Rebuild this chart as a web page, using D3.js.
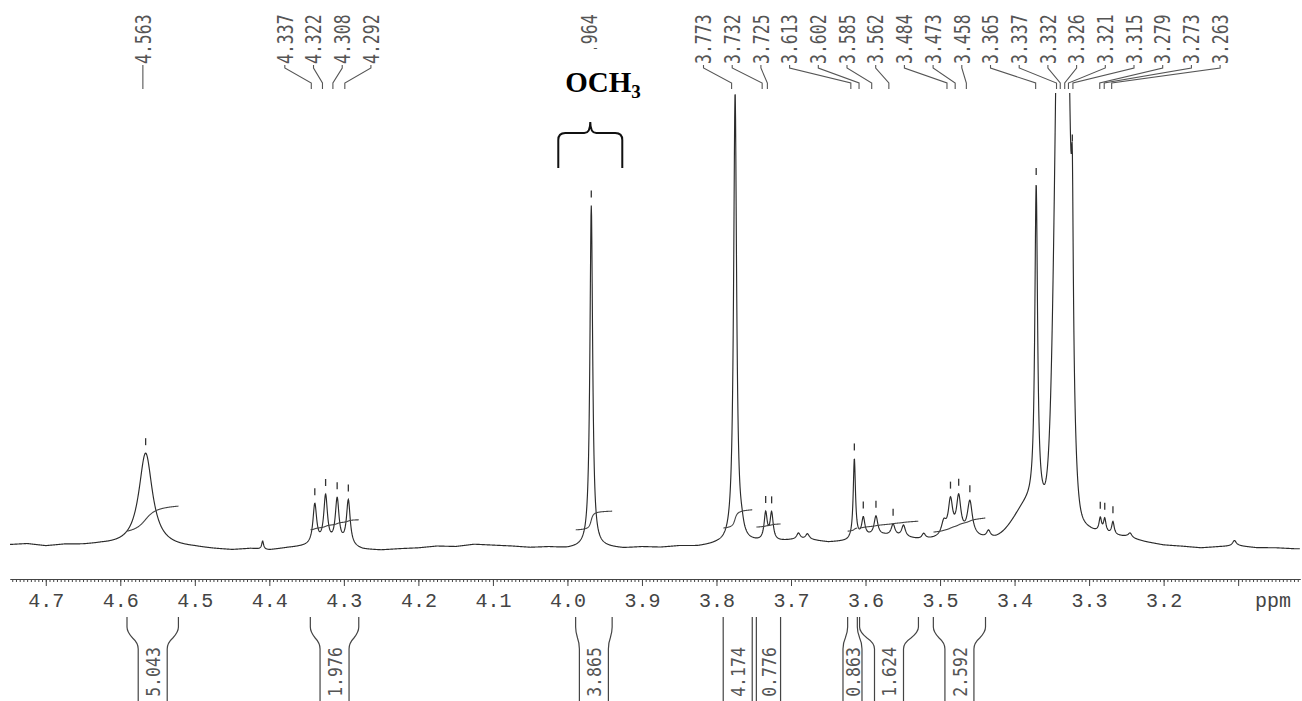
<!DOCTYPE html>
<html><head><meta charset="utf-8">
<script src="https://cdn.jsdelivr.net/npm/d3@7"></script>
<style>body{margin:0;background:#fff;} svg{display:block;background:#fff}</style>
</head><body><svg id="c" width="1302" height="701"></svg>
<script>
// ---------------- data ----------------
// resolved peaks (ppm, height in relative units, half width, shape L=Lorentz G=Gauss)
const peakPpm    = [4.566, 4.409, 4.339, 4.3245, 4.309, 4.294, 3.968, 3.775, 3.766, 3.734, 3.726, 3.690, 3.678, 3.615, 3.603, 3.586, 3.563, 3.549, 3.522, 3.495, 3.486, 3.475, 3.460, 3.435, 3.382, 3.371, 3.3356, 3.3356, 3.3225, 3.285, 3.279, 3.268, 3.245, 3.105];
const peakHeight = [20.5, 1.8, 8.8, 10.4, 9.8, 9.9, 75, 99, 1.5, 6.0, 6.0, 1.4, 1.2, 17.5, 4.0, 4.2, 2.5, 2.5, 1.2, 3.0, 7.5, 8.0, 7.5, 1.5, 7, 70, 177, 13, 34, 3, 3, 2.8, 1.0, 1.2];
const peakWidth  = [0.011, 0.0015, 0.003, 0.003, 0.003, 0.003, 0.0022, 0.0024, 0.003, 0.0025, 0.0025, 0.003, 0.003, 0.0018, 0.0025, 0.003, 0.003, 0.003, 0.003, 0.004, 0.0035, 0.0035, 0.004, 0.003, 0.02, 0.0022, 0.0078, 0.02, 0.0015, 0.002, 0.002, 0.002, 0.003, 0.003];
const peakShape  = ["L","L","L","L","L","L","L","L","L","L","L","L","L","L","L","L","L","L","L","L","L","L","L","L","G","L","G","L","L","L","L","L","L","L"];
// baseline level
const baselinePpm   = [4.75,4.725,4.70,4.675,4.65,4.625,4.60,4.575,4.55,4.525,4.50,4.475,4.45,4.425,4.40,4.375,4.35,4.325,4.30,4.275,4.25,4.225,4.20,4.175,4.15,4.125,4.10,4.075,4.05,4.025,4.00,3.975,3.95,3.925,3.90,3.875,3.85,3.825,3.80,3.775,3.75,3.725,3.70,3.675,3.65,3.625,3.60,3.575,3.55,3.525,3.50,3.475,3.45,3.425,3.40,3.375,3.35,3.325,3.30,3.275,3.25,3.225,3.20,3.175,3.15,3.125,3.10,3.075,3.05,3.025,3.00];
const baselineLevel = [0.9,1.1,0.6,0.9,0.8,0.9,0.7,0.5,0.5,0.3,0.2,-0.1,-0.3,0.0,-0.3,0.2,0.5,0.8,0.6,-0.2,-0.3,0.0,0.2,0.6,0.5,1.0,0.8,0.6,0.3,0.4,0.1,0.3,0.3,0.1,0.4,0.3,0.6,0.5,0.9,1.0,1.3,1.4,1.8,1.9,1.4,1.6,2.6,2.8,2.4,1.8,2.0,2.5,2.0,1.3,1.0,1.0,1.0,1.0,1.6,2.0,2.0,1.2,0.6,0.4,0.1,0.4,0.6,0.2,0.2,0.0,0.0];
// peak-picking labels
const shiftLabels = ["4.563","4.337","4.322","4.308","4.292","3.964","3.773","3.732","3.725","3.613","3.602","3.585","3.562","3.484","3.473","3.458","3.365","3.337","3.332","3.326","3.321","3.315","3.279","3.273","3.263"];
const markerPpm = [4.566, 4.339, 4.3245, 4.309, 4.294, 3.968, 3.734, 3.726, 3.615, 3.603, 3.586, 3.563, 3.486, 3.475, 3.460, 3.371, 3.3225, 3.285, 3.279, 3.268];
// integrals
const integralValues = ["5.043","1.976","3.865","4.174","0.776","0.863","1.624","2.592"];
const integralFrom   = [4.591, 4.345, 3.989, 3.791, 3.7465, 3.624, 3.608, 3.509];
const integralTo     = [4.522, 4.280, 3.940, 3.752, 3.714, 3.611, 3.529, 3.439];
const integralStart  = [3.9, 4.2, 4.2, 4.6, 4.8, 3.9, 4.6, 3.7];
const integralEnd    = [9.4, 6.4, 8.3, 8.6, 5.5, 4.6, 6.1, 6.8];
// axis
const tickValues = [4.7,4.6,4.5,4.4,4.3,4.2,4.1,4.0,3.9,3.8,3.7,3.6,3.5,3.4,3.3,3.2,3.1];
const tickLabels = ["4.7","4.6","4.5","4.4","4.3","4.2","4.1","4.0","3.9","3.8","3.7","3.6","3.5","3.4","3.3","3.2",""];
const unitLabel = "ppm";
const annotation = {main:"OCH", sub:"3", ppm:3.968};

// ---------------- drawing ----------------
const svg = d3.select("#c");
const x = d3.scaleLinear().domain([4.748, 3.017]).range([10, 1300]);
const y = d3.scaleLinear().domain([0, 100]).range([549, 93]);
const base = d3.scaleLinear().domain(baselinePpm).range(baselineLevel);

function spec(p){
  let v = base(p);
  for (let i=0;i<peakPpm.length;i++){
    const d = p - peakPpm[i], w = peakWidth[i];
    if (peakShape[i]==="G") v += peakHeight[i]*Math.exp(-d*d/(2*w*w));
    else v += peakHeight[i]*w*w/(w*w+d*d);
  }
  return v;
}
const grid = d3.range(4.748, 3.017, -0.0004);
const specData = grid.map(p=>[p, spec(p)]);

svg.append("defs").append("clipPath").attr("id","clip")
  .append("rect").attr("x",0).attr("y",93).attr("width",1302).attr("height",500);

svg.append("path").datum(specData)
  .attr("clip-path","url(#clip)")
  .attr("fill","none").attr("stroke","#2b2b2b").attr("stroke-width",1.15)
  .attr("d", d3.line().x(d=>x(d[0])).y(d=>y(d[1])));

// integral traces
const line = d3.line().x(d=>d[0]).y(d=>d[1]).curve(d3.curveLinear);
integralFrom.forEach((a,i)=>{
  const b = integralTo[i];
  const pts = grid.filter(p=>p<=a && p>=b);
  let cum=0; const cs = pts.map(p=>{cum+=Math.max(0,spec(p)); return cum;});
  const data = pts.map((p,k)=>[x(p), y(integralStart[i]+(integralEnd[i]-integralStart[i])*cs[k]/cum)]);
  svg.append("path").attr("d", line(data)).attr("fill","none").attr("stroke","#444").attr("stroke-width",1.1);
});

// peak markers
markerPpm.forEach(p=>{
  const yt = y(spec(p));
  if (yt - 15 > 93)
    svg.append("line").attr("x1",x(p)).attr("x2",x(p)).attr("y1",yt-15).attr("y2",yt-8)
      .attr("stroke","#333").attr("stroke-width",1.3);
});

// top labels with leaders
const S = 28.7;
const desired = shiftLabels.map(s=>x(+s)-5);
function spread(des){
  let groups = des.map((d,i)=>({idx:[i], center:d}));
  let changed = true;
  while(changed){
    changed=false;
    for(let i=0;i<groups.length-1;i++){
      const a=groups[i], b=groups[i+1];
      const ar=a.center+(a.idx.length-1)/2*S, bl=b.center-(b.idx.length-1)/2*S;
      if (bl-ar < S){
        const idx=a.idx.concat(b.idx);
        groups.splice(i,2,{idx, center:d3.mean(idx,j=>des[j])});
        changed=true; break;
      }
    }
  }
  const pos=[];
  groups.forEach(g=>g.idx.forEach((j,k)=>pos[j]=g.center+(k-(g.idx.length-1)/2)*S));
  return pos;
}
const cols = spread(desired);
shiftLabels.forEach((s,i)=>{
  const xc=cols[i], xd=desired[i];
  svg.append("path").attr("d",`M${xc},65V68L${xd},83V89`).attr("fill","none")
    .attr("stroke","#555").attr("stroke-width",1.1);
  svg.append("g").attr("transform",`translate(${xc},64) rotate(-90) scale(1,1.3)`)
    .append("text").attr("x",0).attr("y",0).attr("dy","0.36em")
    .attr("font-family","DejaVu Sans Mono").attr("font-size",16.5).attr("fill","#555")
    .attr("text-anchor","start").text(s);
});

// OCH3 annotation (covers part of the label)
const ax = x(annotation.ppm);
svg.append("rect").attr("x",545).attr("y",49).attr("width",128).attr("height",137).attr("fill","#fff");
const t = svg.append("text").attr("x",ax-26).attr("y",92).attr("font-family","Liberation Serif")
  .attr("font-weight","bold").attr("font-size",29).attr("fill","#000").attr("text-anchor","start");
t.append("tspan").text(annotation.main);
t.append("tspan").attr("font-size",19).attr("dy",6).text(annotation.sub);
const bx = ax-1;
svg.append("path").attr("d",`M${bx-32},168V140Q${bx-32},133 ${bx-25},133H${bx-6}Q${bx},133 ${bx},122Q${bx},133 ${bx+6},133H${bx+25}Q${bx+32},133 ${bx+32},140V168`)
  .attr("fill","none").attr("stroke","#111").attr("stroke-width",2);

// axis
const gA = svg.append("g").attr("transform","translate(0,579)");
gA.call(d3.axisBottom(x).tickValues(d3.range(4.745,3.015,-0.005)).tickSize(3).tickSizeOuter(0).tickFormat(""));
const gM = svg.append("g").attr("transform","translate(0,579)");
gM.call(d3.axisBottom(x).tickValues(tickValues).tickSize(7).tickSizeOuter(0).tickFormat((d,i)=>tickLabels[i]));
[gA,gM].forEach(g=>{g.selectAll("line").attr("stroke","#444").attr("stroke-width",1);
  g.select(".domain").attr("stroke","#444").attr("stroke-width",1.2);});
gM.selectAll("text").attr("y",28).attr("dy",null).attr("font-family","Liberation Mono")
  .attr("font-size",20).attr("fill","#444");
svg.append("text").attr("x",1255).attr("y",607).attr("font-family","Liberation Mono")
  .attr("font-size",20).attr("fill","#444").text(unitLabel);

// integral brackets
integralValues.forEach((v,i)=>{
  const xl=x(integralFrom[i]), xr=x(integralTo[i]);
  const tw=xr-xl, lw=Math.max(19,Math.min(29,tw)), cx=(xl+xr)/2;
  const lxl=cx-lw/2, lxr=cx+lw/2;
  const side=(a,b)=>`M${a},617V627Q${a},632 ${(a+b)/2},638Q${b},643 ${b},649V701`;
  svg.append("path").attr("d",side(xl,lxl)+side(xr,lxr)).attr("fill","none")
    .attr("stroke","#444").attr("stroke-width",1.2);
  svg.append("g").attr("transform",`translate(${cx},672) rotate(-90) scale(1,1.2)`)
    .append("text").attr("dy","0.36em").attr("text-anchor","middle")
    .attr("font-family","DejaVu Sans Mono").attr("font-size",16.5).attr("fill","#555").text(v);
});
</script></body></html>
